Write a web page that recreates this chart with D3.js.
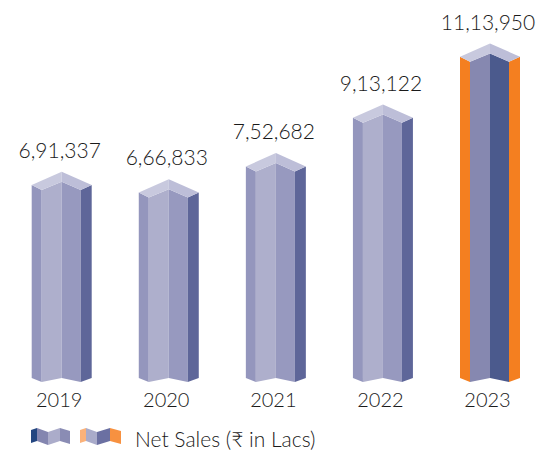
<!DOCTYPE html>
<html>
<head>
<meta charset="utf-8">
<script src="https://cdn.jsdelivr.net/npm/d3@7/dist/d3.min.js"></script>
<style>
  html, body { margin: 0; padding: 0; background: #ffffff; }
  svg { display: block; }
  text { font-family: Lato, "Noto Sans", sans-serif; font-weight: 300; fill: #1a1a1a; }
</style>
</head>
<body>
<svg id="chart" width="542" height="456"></svg>
<script>
// ---- data ----
const years = ["2019", "2020", "2021", "2022", "2023"];
const netSales = [691337, 666833, 752682, 913122, 1113950];
const legendLabel = "Net Sales (\u20B9 in Lacs)";

// ---- formatting (Indian digit grouping) ----
function indianFormat(n) {
  const s = String(Math.round(n));
  if (s.length <= 3) return s;
  const last3 = s.slice(-3);
  let rest = s.slice(0, -3);
  const parts = [];
  while (rest.length > 2) { parts.unshift(rest.slice(-2)); rest = rest.slice(0, -2); }
  if (rest.length) parts.unshift(rest);
  return parts.join(",") + "," + last3;
}

const svg = d3.select("#chart");
const x = d3.scalePoint().domain(years).range([61.7, 490]);
const y = d3.scaleLinear().domain([0, 1200000]).range([394.9, 30.6]);

const bottomOuter = 378, bottomCrease = 382;
const normalColors = { l: "#9496bd", ml: "#aeafcc", mr: "#9799bf", r: "#5e6699", tl: "#c8c9de", tr: "#bdbed8" };
const hiColors = { l: "#f47f20", ml: "#8688b0", mr: "#4b5a8d", r: "#f47f20", tl: "#c8c9de", tr: "#bdbed8" };

const data = years.map((yr, i) => ({ year: yr, value: netSales[i], highlight: i === years.length - 1 }));

const bars = svg.append("g").selectAll("g").data(data).join("g");

bars.each(function (d) {
  const g = d3.select(this);
  const cx = x(d.year);
  const y0 = y(d.value);
  const xL = cx - 30, xc1 = cx - 20, xC = cx, xc2 = cx + 19, xR = cx + 30;
  const c = d.highlight ? hiColors : normalColors;
  const poly = (pts, fill) => g.append("polygon").attr("points", pts.map(p => p.join(",")).join(" ")).attr("fill", fill);
  poly([[xL, y0], [xc1, y0 + 5], [xc1, bottomCrease], [xL, bottomOuter]], c.l);
  poly([[xc1, y0 + 5], [xC, y0 - 3.3], [xC, bottomOuter], [xc1, bottomCrease]], c.ml);
  poly([[xC, y0 - 3.3], [xc2, y0 + 5], [xc2, bottomCrease], [xC, bottomOuter]], c.mr);
  poly([[xc2, y0 + 5], [xR, y0], [xR, bottomOuter], [xc2, bottomCrease]], c.r);
  poly([[xL, y0], [xC, y0 - 13.3], [xC, y0 - 3.3], [xc1, y0 + 5]], c.tl);
  poly([[xC, y0 - 13.3], [xR, y0], [xc2, y0 + 5], [xC, y0 - 3.3]], c.tr);

  g.append("text")
    .attr("x", cx - 2)
    .attr("y", y0 - 27)
    .attr("text-anchor", "middle")
    .attr("font-size", 21)
    .text(indianFormat(d.value));
});

// x axis labels
const xAxis = d3.axisBottom(x).tickSize(0).tickPadding(0);
const ax = svg.append("g").attr("transform", "translate(-3,393)").call(xAxis);
ax.select(".domain").remove();
ax.selectAll("text").attr("font-size", 20).attr("dy", "0.72em")
  .style("font-family", "Lato, 'Noto Sans', sans-serif").style("font-weight", 300).attr("fill", "#1a1a1a");

// legend
const lg = svg.append("g");
function icon(xs, colors) {
  const top = [430, 428, 432, 428, 431];
  for (let i = 0; i < 4; i++) {
    lg.append("polygon")
      .attr("points", [[xs[i], top[i]], [xs[i + 1], top[i + 1]], [xs[i + 1], top[i + 1] + 13], [xs[i], top[i] + 13]].map(p => p.join(",")).join(" "))
      .attr("fill", colors[i]);
  }
}
icon([31, 37, 48, 60, 70], ["#234681", "#8486b0", "#abacca", "#8a8cb4"]);
icon([80, 86, 97, 110, 121], ["#fbb27a", "#a9abca", "#6b70a2", "#f79140"]);
lg.append("text").attr("x", 135).attr("y", 447).attr("font-size", 21).text(legendLabel);
</script>
</body>
</html>
